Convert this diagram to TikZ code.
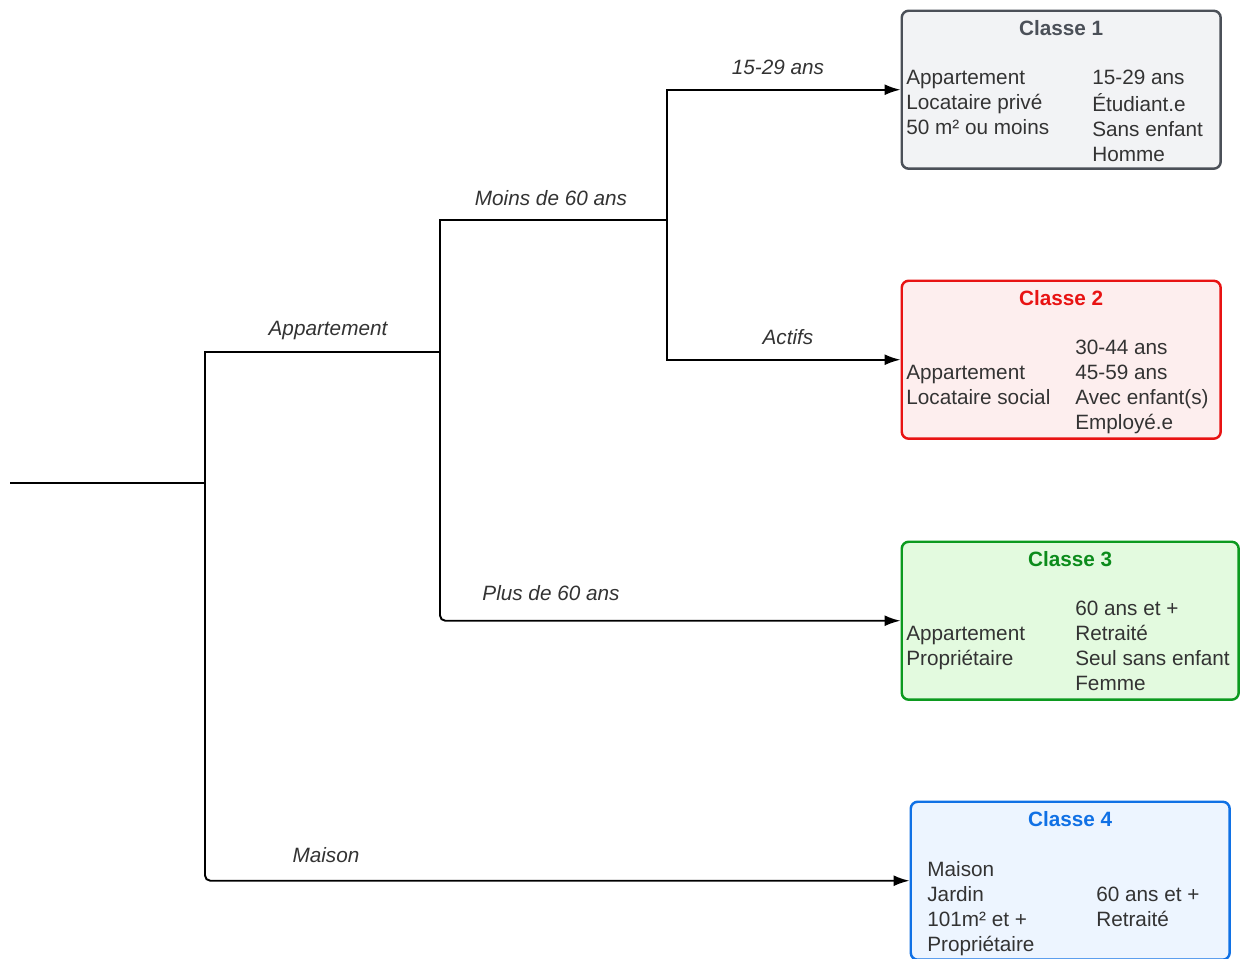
\documentclass[tikz,border=0pt]{standalone}
\usepackage{fontspec}
\setmainfont{Liberation Sans}
\usetikzlibrary{positioning, arrows.meta}
\definecolor{txtgray}{RGB}{51, 51, 51}
\definecolor{grayline}{RGB}{75, 80, 88}
\definecolor{grayfill}{RGB}{242, 243, 245}
\definecolor{redline}{RGB}{232, 19, 19}
\definecolor{redfill}{RGB}{253, 238, 238}
\definecolor{greenline}{RGB}{12, 154, 31}
\definecolor{greentitle}{RGB}{12, 140, 28}
\definecolor{greenfill}{RGB}{227, 250, 223}
\definecolor{blueline}{RGB}{16, 113, 229}
\definecolor{bluefill}{RGB}{237, 245, 255}

\begin{document}
\begin{tikzpicture}[x=0.02cm, y=-0.02cm,
						classbox/.style={draw, line width=1.4pt, rounded corners=4pt, minimum width=6.38cm, minimum height=3.16cm, inner sep=0pt},
						classtitle/.style={font=\fontsize{11.8}{14.2}\selectfont\bfseries, inner sep=0pt},
						coltxt/.style={font=\fontsize{11.8}{14.2}\selectfont, text=txtgray, align=left, inner sep=0pt},
						branch/.style={font=\fontsize{11.8}{14.2}\selectfont\itshape, text=txtgray, inner sep=0pt},
						link/.style={line width=1.1pt},
						arrow/.style={-{Latex[length=3.2mm, width=2.2mm]}, line width=1.1pt}
					]

					\fill[white] (0,0) rectangle (1241,958);
					\useasboundingbox (0,0) rectangle (1241,958);

					% Classes
					\node[classbox, draw=grayline, fill=grayfill, anchor=north west] (c1) at (900.5,9.5) {};
					\node[classbox, draw=redline, fill=redfill, anchor=north west] (c2) at (900.5,279.5) {};
					\node[classbox, draw=greenline, fill=greenfill, minimum width=6.74cm, anchor=north west] (c3) at (900.5,540.5) {};
					\node[classbox, draw=blueline, fill=bluefill, anchor=north west] (c4) at (909.5,800.5) {};

					% Titles
					\node[classtitle, text=grayline, below=0.21cm of c1.north] (t1) {Classe 1};
					\node[classtitle, text=redline, below=0.21cm of c2.north] (t2) {Classe 2};
					\node[classtitle, text=greentitle, below=0.21cm of c3.north] (t3) {Classe 3};
					\node[classtitle, text=blueline, below=0.21cm of c4.north] (t4) {Classe 4};

					% Contents
					\node[coltxt, below right=1.14cm and 0.11cm of c1.north west] (c1l) {\strut Appartement\\Locataire privé\\50 m² ou moins};
					\node[coltxt, below right=1.14cm and 3.83cm of c1.north west] (c1r) {\strut 15-29 ans\\Étudiant.e\\Sans enfant\\Homme};
					\node[coltxt, below right=1.64cm and 0.11cm of c2.north west] (c2l) {\strut Appartement\\Locataire social};
					\node[coltxt, below right=1.14cm and 3.49cm of c2.north west] (c2r) {\strut 30-44 ans\\45-59 ans\\Avec enfant(s)\\Employé.e};
					\node[coltxt, below right=1.64cm and 0.11cm of c3.north west] (c3l) {\strut Appartement\\Propriétaire};
					\node[coltxt, below right=1.14cm and 3.49cm of c3.north west] (c3r) {\strut 60 ans et +\\Retraité\\Seul sans enfant\\Femme};
					\node[coltxt, below right=1.16cm and 0.35cm of c4.north west] (c4l) {\strut Maison\\Jardin\\101m² et +\\Propriétaire};
					\node[coltxt, below right=1.66cm and 3.73cm of c4.north west] (c4r) {\strut 60 ans et +\\Retraité};

					% Junctions
					\coordinate (root) at (10,483);
					\coordinate (j1) at (205,483);
					\coordinate (j2) at (440,352);
					\coordinate (j3) at (667,220);

					% Branch labels
					\node[branch] (lappt) at (328,331) {Appartement};
					\node[branch] (lmaison) at (326,855) {Maison};
					\node[branch] (lmoins) at (551,198) {Moins de 60 ans};
					\node[branch] (lplus) at (551,593) {Plus de 60 ans};
					\node[branch] (ljeunes) at (778,67) {15-29 ans};
					\node[branch] (lactifs) at (788,337) {Actifs};

					% Connectors
					\draw[link] (root) -- (j1);
					\draw[link] (j1) |- (j2);
					\draw[arrow, rounded corners=3pt] (j1) |- (c4.west);
					\draw[link] (j2) |- (j3);
					\draw[arrow, rounded corners=3pt] (j2) |- (c3.west);
					\draw[arrow] (j3) |- (c1.west);
					\draw[arrow] (j3) |- (c2.west);
				\end{tikzpicture}
\end{document}
